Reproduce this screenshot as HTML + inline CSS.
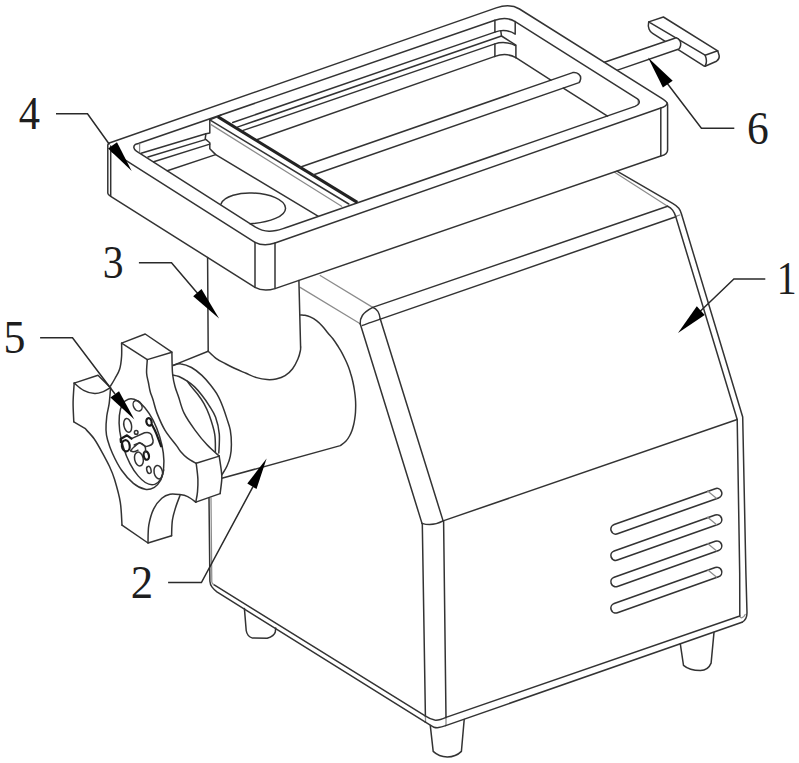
<!DOCTYPE html>
<html>
<head>
<meta charset="utf-8">
<title>Figure</title>
<style>
html,body{margin:0;padding:0;background:#fff;}
body{width:799px;height:763px;overflow:hidden;position:relative;}
svg{position:absolute;left:0;top:0;display:block;}
.k{fill:none;stroke:#333;stroke-width:1.5;stroke-linecap:round;stroke-linejoin:round;}
.t{fill:none;stroke:#222;stroke-width:3;stroke-linecap:butt;}
.b{fill:none;stroke:#1a1a1a;stroke-width:2.2;stroke-linecap:round;stroke-linejoin:round;}
.g{fill:none;stroke:#8c8c8c;stroke-width:1.25;stroke-linecap:round;}
.w{fill:#fff;stroke:none;}
.wk{fill:#fff;stroke:#1c1c1c;stroke-width:1.25;stroke-linejoin:round;stroke-linecap:round;}
.a{fill:#000;stroke:none;}
.l{fill:none;stroke:#2a2a2a;stroke-width:1.5;stroke-linecap:butt;stroke-linejoin:miter;}
text{font-family:"Liberation Serif",serif;font-size:46.3px;fill:#1e1e1e;text-anchor:middle;}
</style>
</head>
<body>
<svg width="799" height="763" viewBox="0 0 799 763">
<rect x="0" y="0" width="799" height="763" fill="#fff"/>

<g id="body">
<path class="k" d="M617,171.2 L672.6,203.4 C676,205.3 677.5,206.8 678.8,208.3 C680,209.8 680.8,211.8 681.4,213.8 L742.7,417 L745.9,573 L747,612.8 C747,617 745.5,620.5 742,622.3"/>
<path class="g" d="M614.6,172.3 L667.6,206.3"/>
<path class="g" d="M675.7,216.3 L679.8,215"/>
<path class="k" d="M667.6,206.3 C670,207.2 671.5,208.6 672.6,210.1 C674,212 675,214 675.7,216.5"/>
<path class="k" d="M372.7,307.4 L667.6,206.3"/>
<path class="k" d="M362.5,325.4 C365,324.6 368,323.4 371,322.4 L675.2,217"/>
<path class="k" d="M675.7,216.5 L737.2,419.5 L739.7,573 L739.8,616"/>
<path class="g" d="M739.8,616 C740.2,619 743.5,618 745.2,614.5"/>
<path class="g" d="M300.1,287.4 L360.2,323.7"/>
<path class="g" d="M320.2,275.5 L372.7,307.4"/>
<path class="k" d="M360.2,323.7 C360,318 362,313 372.7,307.4 C377.5,309 379.5,313.5 380.2,318.7"/>
<path class="k" d="M360.2,323.7 L422,523.4"/>
<path class="k" d="M380.2,318.7 L443.1,520.9"/>
<path class="k" d="M422,523.4 C428,525.3 436,524.8 443.1,520.9"/>
<path class="k" d="M422.3,523.4 L425.4,715.8"/>
<path class="g" d="M425.4,715.8 L425.6,722 M446,717.4 L446,725.4"/>
<path class="k" d="M443.6,520.9 L446,717.4"/>
<path class="k" d="M443.1,520.9 L737.2,419.5"/>
<path class="k" d="M446,717.4 L739.8,616"/>
<path class="k" d="M445.7,725.6 L742,622.3"/>
<path class="k" d="M425.2,715.8 C428,717.6 431,719.4 434.7,720.1 C438.5,720.6 442.5,719 446,717.4"/>
<path class="k" d="M425,721.9 L430.3,725.2 C431.5,726 432.7,726.8 433.9,727.2 C435.5,727.7 437,727.8 438.6,727.6 C441,727.3 443.5,726.4 445.7,725.6"/>
<path class="k" d="M213.8,584.6 L425.2,715.8"/>
<path class="k" d="M209,498 L209.9,581.3 C210.1,584 210.8,585.5 211.9,586.9 C213.2,588.6 215,590.5 216.9,591.9 L425,721.9"/>
<path class="g" d="M211,498 L211.8,582 C212,583.5 212.8,584.3 213.8,584.6"/>
<path class="k" d="M430.3,725.6 L433.2,751.4 C437,755 441.5,756.8 447.3,757 C453,757 458,754.8 461.4,751.4 L464.2,719.5"/>
<path class="k" d="M680.3,643.8 L683.5,665.4 C686.5,668 693,670.6 700.4,670.6 C705.5,670.4 709.5,667 711.1,663.1 L714,632.4"/>
<path class="k" d="M244.4,608.4 L246.2,630.5 C246.8,634.5 249,637 252.5,638.1 L267.2,638.2 C271.5,637 274.5,635 275.3,632 L275.7,628"/>
<g id="vents">
<g transform="translate(0,0.0)">
<path d="M615.8,529.2 L716.9,493.3" fill="none" stroke="#333" stroke-width="11.4" stroke-linecap="round"/>
<path d="M615.8,529.2 L716.9,493.3" fill="none" stroke="#fff" stroke-width="8.2" stroke-linecap="round"/>
<path class="g" d="M707.6,490.9 L716.4,498.2"/>
</g>
<g transform="translate(0,26.3)">
<path d="M615.8,529.2 L716.9,493.3" fill="none" stroke="#333" stroke-width="11.4" stroke-linecap="round"/>
<path d="M615.8,529.2 L716.9,493.3" fill="none" stroke="#fff" stroke-width="8.2" stroke-linecap="round"/>
<path class="g" d="M707.6,490.9 L716.4,498.2"/>
</g>
<g transform="translate(0,52.6)">
<path d="M615.8,529.2 L716.9,493.3" fill="none" stroke="#333" stroke-width="11.4" stroke-linecap="round"/>
<path d="M615.8,529.2 L716.9,493.3" fill="none" stroke="#fff" stroke-width="8.2" stroke-linecap="round"/>
<path class="g" d="M707.6,490.9 L716.4,498.2"/>
</g>
<g transform="translate(0,78.9)">
<path d="M615.8,529.2 L716.9,493.3" fill="none" stroke="#333" stroke-width="11.4" stroke-linecap="round"/>
<path d="M615.8,529.2 L716.9,493.3" fill="none" stroke="#fff" stroke-width="8.2" stroke-linecap="round"/>
<path class="g" d="M707.6,490.9 L716.4,498.2"/>
</g>
</g>
</g>
<g id="cyl">
<path class="k" d="M300.6,314.9 C301.3,315.0 303.4,315.0 305.0,315.3 C306.6,315.6 308.3,316.0 310.2,316.9 C312.1,317.8 314.5,319.1 316.5,320.6 C318.5,322.1 320.4,324.0 322.2,326.0 C324.0,328.0 325.8,330.4 327.5,332.5 C329.2,334.6 331.0,336.3 332.7,338.5 C334.4,340.7 336.0,343.1 337.5,345.5 C339.0,347.9 340.5,350.2 341.8,352.6 C343.1,355.0 344.4,357.7 345.5,360.0 C346.6,362.3 347.4,364.2 348.3,366.5 C349.2,368.8 350.1,371.5 350.8,374.0 C351.6,376.5 352.2,378.8 352.8,381.5 C353.4,384.2 354.0,387.2 354.4,390.0 C354.8,392.8 355.2,396.0 355.4,398.5 C355.6,401.0 355.7,402.8 355.7,405.0 C355.7,407.2 355.6,409.8 355.5,412.0 C355.4,414.2 355.1,416.4 354.8,418.5 C354.5,420.6 354.2,422.5 353.7,424.5 C353.2,426.5 352.7,428.6 352.0,430.5 C351.3,432.4 350.5,434.2 349.5,436.0 C348.5,437.8 347.3,439.7 345.8,441.3 C344.3,442.9 341.2,444.9 340.3,445.6 L221.8,478.3"/>
<path class="k" d="M207.6,257.6 L208.2,351.2"/>
<path class="k" d="M298.9,280.4 L300.6,347"/>
<path class="k" d="M208.2,351.2 C209.5,352.4 213.2,356.2 216.0,358.3 C218.8,360.4 221.7,361.8 225.0,363.5 C228.3,365.2 232.1,367.2 235.6,368.8 C239.1,370.4 242.6,371.8 246.1,373.3 C249.6,374.8 253.1,376.6 256.6,377.6 C260.1,378.7 263.9,379.4 267.1,379.6 C270.4,379.8 273.1,379.7 276.1,379.0 C279.1,378.3 282.4,377.3 285.1,375.6 C287.9,373.9 290.5,371.6 292.6,368.8 C294.7,366.0 296.6,362.0 297.9,359.0 C299.2,356.0 299.9,353.0 300.3,351.0 C300.8,349.0 300.6,347.7 300.6,347.0"/>
<path class="k" d="M208.2,351.3 L173.1,365.4"/>
<path class="k" d="M173.1,365.4 C174.4,365.1 177.9,363.5 181.0,363.9 C184.1,364.2 188.0,365.6 191.5,367.5 C195.0,369.4 198.8,372.5 201.9,375.4 C205.0,378.3 207.7,381.5 210.3,384.8 C212.9,388.1 215.6,391.6 217.7,395.3 C219.8,399.0 221.4,403.0 222.9,406.9 C224.4,410.8 225.6,414.5 226.8,418.4 C228.0,422.3 229.5,425.7 230.3,430.1 C231.1,434.5 231.4,440.3 231.4,444.6 C231.4,448.9 231.1,452.5 230.3,456.1 C229.6,459.7 228.3,463.2 226.9,466.3 C225.5,469.4 222.7,473.4 221.9,474.8"/>
<path class="k" d="M172.4,374.9 C173.5,375.2 176.4,375.4 178.9,376.5 C181.4,377.6 184.7,379.5 187.3,381.2 C189.9,382.9 192.2,384.5 194.6,386.9 C197.0,389.2 199.4,392.1 201.9,395.3 C204.4,398.5 207.0,402.1 209.3,405.8 C211.6,409.5 213.9,412.6 215.6,417.3 C217.3,422.0 218.8,428.2 219.3,434.1 C219.8,440.1 218.9,449.9 218.8,453.0"/>
<path class="k" d="M187.3,381.2 C188.0,382.1 189.8,384.7 191.5,386.9 C193.2,389.1 195.6,391.5 197.7,394.3 C199.8,397.1 202.1,400.2 204.0,403.7 C205.9,407.2 207.5,410.2 209.3,415.3 C211.1,420.4 213.7,428.1 214.7,434.1 C215.7,440.1 215.3,448.6 215.4,451.5"/>
</g>
<g id="knob">
<path class="w" d="M121.6,343.1 L145.2,334.0 L171.9,352.2 L172.1,363.3 L172.7,375.0 L175.0,386.5 L178.6,397.0 L184.1,413.2 L195.0,430.1 L206.8,444.6 L219.2,456.1 L221.3,470.6 L221.8,479.1 L220.1,493.6 L195.8,502.1 L197.5,491.9 L197.9,479.1 L196.2,463.3 L186.8,457.6 L180.2,451.0 L176.7,445.9 L164.9,430.1 L157.0,413.1 L153.1,400.0 L150.3,392.0 L148.5,383.0 L146.6,373.0 L147.3,359.6 Z"/>
<path class="k" d="M121.6,343.1 L145.2,334.0 L171.9,352.2 L147.3,359.6 Z"/>
<path class="k" d="M171.9,352.2 C171.9,354.1 172.0,359.5 172.1,363.3 C172.2,367.1 172.2,371.1 172.7,375.0 C173.2,378.9 174.0,382.8 175.0,386.5 C176.0,390.2 177.1,392.6 178.6,397.0 C180.1,401.4 181.4,407.7 184.1,413.2 C186.8,418.7 191.2,424.9 195.0,430.1 C198.8,435.3 202.8,440.3 206.8,444.6 C210.8,448.9 217.1,454.2 219.2,456.1"/>
<path class="k" d="M147.3,359.6 C147.2,361.8 146.4,369.1 146.6,373.0 C146.8,376.9 147.9,379.8 148.5,383.0 C149.1,386.2 149.5,389.2 150.3,392.0 C151.1,394.8 152.0,396.5 153.1,400.0 C154.2,403.5 155.0,408.1 157.0,413.1 C159.0,418.1 161.6,424.6 164.9,430.1 C168.2,435.6 174.1,442.4 176.7,445.9 C179.2,449.4 178.5,449.1 180.2,451.0 C181.9,452.9 184.1,455.6 186.8,457.6 C189.5,459.7 194.6,462.4 196.2,463.3"/>
<path class="k" d="M121.6,343.1 C121.6,345.3 121.9,351.8 121.6,356.2 C121.3,360.6 120.7,365.6 119.6,369.3 C118.5,373.0 116.5,375.7 115.0,378.5 C113.5,381.3 111.2,384.8 110.5,386.0"/>
<path class="k" d="M196.2,463.3 L219.2,456.1"/>
<path class="k" d="M196.2,463.3 C196.5,465.9 197.7,474.3 197.9,479.1 C198.1,483.9 197.8,488.1 197.5,491.9 C197.2,495.7 196.1,500.4 195.8,502.1"/>
<path class="k" d="M219.2,456.1 C219.5,458.5 220.9,466.8 221.3,470.6 C221.7,474.4 222.0,475.3 221.8,479.1 C221.6,482.9 220.4,491.2 220.1,493.6"/>
<path class="k" d="M195.8,502.1 L220.1,493.6"/>
<path class="k" d="M74.2,383.1 L98.0,375.2 L110.5,387.7"/>
<path class="k" d="M74.2,383.1 C75.8,384.3 80.2,388.6 83.6,390.3 C87.0,392.1 91.4,393.4 94.7,393.6 C98.0,393.8 100.7,392.6 103.3,391.6 C105.9,390.6 109.3,388.4 110.5,387.7"/>
<path class="k" d="M74.2,383.1 C74.0,386.3 73.2,395.7 73.1,402.1 C73.0,408.6 73.7,418.5 73.8,421.8"/>
<path class="k" d="M73.8,421.8 L84.9,428.3 C86.4,430.1 91.0,434.4 94.1,438.8 C97.2,443.2 100.8,450.0 103.3,454.6 C105.8,459.2 107.5,462.2 109.4,466.3 C111.3,470.4 112.8,473.5 114.6,479.5 C116.4,485.5 119.1,494.7 120.3,502.3 C121.5,509.9 121.7,521.3 122.0,525.1"/>
<path class="k" d="M122.0,525.1 L148.0,543.0 L171.6,535.7"/>
<path class="k" d="M148.0,543.0 C148.1,540.0 147.9,530.8 148.8,525.1 C149.8,519.4 151.5,513.3 153.7,508.8 C155.9,504.3 159.1,500.6 161.8,498.2 C164.5,495.8 167.0,494.8 170.0,494.2 C173.0,493.6 176.8,494.2 179.7,494.6 C182.6,495.0 185.0,495.4 187.7,496.6 C190.4,497.9 194.5,501.2 195.8,502.1"/>
<path class="k" d="M171.6,535.7 C171.7,533.1 171.7,525.0 172.4,520.2 C173.1,515.5 174.4,511.3 175.7,507.2 C177.0,503.1 179.3,497.4 180.0,495.5"/>
<path class="k" d="M110.5,388.5 C110.3,391.0 109.8,398.8 109.2,403.4 C108.6,408.0 107.3,411.6 106.8,416.0 C106.3,420.4 105.9,426.0 106.0,430.0 C106.1,434.0 106.5,436.1 107.6,440.0 C108.7,443.9 110.1,448.2 112.4,453.3 C114.7,458.4 118.1,465.3 121.6,470.3 C125.1,475.3 129.5,480.2 133.4,483.4 C137.3,486.6 141.7,488.6 145.2,489.3 C148.7,490.0 151.8,488.8 154.4,487.3 C157.0,485.8 158.9,483.4 160.5,480.5 C162.1,477.6 163.2,471.8 163.8,470.0"/>
<ellipse class="k" cx="141.5" cy="441.8" rx="18.9" ry="44.6" transform="rotate(-17.3 141.5 441.8)"/>
<ellipse class="k" cx="137.6" cy="405.8" rx="4.0" ry="5.6" transform="rotate(-30 137.6 405.8)"/>
<ellipse class="k" cx="127.7" cy="425.4" rx="3.8" ry="7.0" transform="rotate(-12 127.7 425.4)"/>
<ellipse class="b" cx="149.0" cy="421.9" rx="2.6" ry="3.8" transform="rotate(-15 149.0 421.9)"/>
<ellipse class="k" cx="138.9" cy="459.0" rx="4.3" ry="7.0" transform="rotate(-12 138.9 459.0)"/>
<ellipse class="b" cx="146.3" cy="455.6" rx="2.6" ry="4.2" transform="rotate(-12 146.3 455.6)"/>
<ellipse class="k" cx="148.9" cy="469.9" rx="2.1" ry="3.6" transform="rotate(-15 148.9 469.9)"/>
<ellipse class="k" cx="158.3" cy="472.2" rx="4.2" ry="6.8" transform="rotate(-12 158.3 472.2)"/>
<ellipse class="k" cx="136.2" cy="432.4" rx="1.8" ry="1.8" transform="rotate(0 136.2 432.4)"/>
<path class="k" d="M131.5,438.6 L144.5,432.8 Q149.6,431.4 151.6,435 L153.1,440.5 Q153.4,444.6 149,445.8 L146,446.6 L139.6,442.6 L134.2,445"/>
<path class="b" d="M120.6,439 L127,435.3 L131.5,438.6 M120.6,439 L120.9,442.2"/>
<ellipse class="b" cx="125.8" cy="445.8" rx="3.9" ry="5.6" transform="rotate(-8 125.8 445.8)"/>
<path class="k" d="M130.6,450.6 C131.2,450.0 132.5,448.3 134.0,447.0 C135.5,445.7 137.8,443.2 139.6,443.0 C141.4,442.8 143.6,444.9 144.6,446.0 C145.6,447.1 145.6,448.4 145.6,449.5 C145.6,450.6 144.8,452.1 144.6,452.6"/>
<path class="k" d="M130.6,450.6 C133,452.6 136,451.6 138,450.2"/>
<path class="b" d="M152.1,425.0 C152.8,426.3 154.5,429.3 156.0,432.9 C157.5,436.4 160.2,444.1 161.1,446.3"/>
</g>
<g id="handle">
<path class="k" d="M648.7,21.9 L663.4,17 L717.7,50.8 L705.1,55.2 Z"/>
<path class="k" d="M648.7,21.9 C648.1,24.8 648.2,27 649,28.9 C649.8,31 651,32.4 652.6,33.3 L703.4,65.7 L705.1,66.2 L716.5,61.3 C718.6,59.5 719.6,58 719.2,55.8 L717.7,50.8"/>
<path class="k" d="M705.1,55.2 C706.6,58.5 706.8,63 705.1,66.2"/>
<path class="w" d="M604.4,62.2 L676.2,37.7 C679.5,38.5 681.5,42.5 680.6,45.5 C680.2,47 679.8,48.2 678.9,49 L617.5,70.1 Z"/>
<path class="k" d="M604.4,62.2 L676.2,37.7 C679.5,38.5 681.5,42.5 680.6,45.5 C680.2,47 679.8,48.2 678.9,49 L617.5,70.1"/>
</g>
<g id="tray">
<path class="k" d="M107.8,144.9 L108.6,143.3 L496.2,7.9 C503,5.6 512,4.6 519.5,9 L662.6,98.9 C665.6,100.8 667.6,102.4 667.6,104.6 L667.6,150 C667.6,153 665,155.2 660.8,156 L275,288.6 C268,290.8 260.5,290.4 255,287.4 L110.7,196.3 C108.6,195 107.8,194.2 107.8,193.2 Z"/>
<path class="k" d="M667.3,103.2 C666.6,105.8 664,107 660.8,108 L275,243 C268,245.4 260.5,245.2 255,242.3 L128.6,162.2 L110.7,150.9"/>
<path class="k" d="M660.8,108 L660.8,156"/>
<path class="g" d="M638.2,99.6 L638.2,104.6"/>
<path class="k" d="M275,243 L275,288.6"/>
<path class="k" d="M255,242.3 L255,287.4"/>
<path class="k" d="M110.7,146 L110.7,196.3"/>
<path class="k" d="M139,143.3 L494.9,20.3 C501,18.2 509,17.8 515.2,21.6 L637.5,98.9 C639.4,100.2 639.8,102.4 638.6,103.9 C637.7,105 636.6,105.8 635,106.4 L290,226.3 C287.7,227.1 285.3,227.9 283,228.6 C280.7,229.3 278.3,230 276,230.5 C273.7,231 271.3,231.4 269,231.3 C266.7,231.2 264.3,230.8 262,230.1 C259.7,229.4 257.5,228.3 255.5,227.2 L250,223.7 L136.4,151.2 C133.4,149.2 133,146 135.4,144.4 C136.4,143.8 137.6,143.6 139,143.3 Z"/>
<path class="g" d="M139.6,144.2 L139.6,151.6"/>
<path class="k" d="M141.1,153.3 L205.9,133.7"/>
<path class="k" d="M148,157 L205.2,139.6"/>
<path class="k" d="M153.7,161.7 L209.8,144.1"/>
<path class="k" d="M167.3,170.8 L215.7,154.6"/>
<path class="k" d="M232.7,122.5 L494.9,32.1"/>
<path class="k" d="M237.3,127.1 L501.5,36"/>
<path class="k" d="M243.2,130.4 L494.9,43.9"/>
<path class="k" d="M256,140 L494.9,56.4"/>
<path class="k" d="M494.9,20.3 L494.9,32.1 C501,30 509,30.2 515.2,34.1 L515.2,21.6"/>
<path class="k" d="M500.8,31 L501.5,36 L515.9,45.2"/>
<path class="k" d="M494.9,56.4 L494.9,43.9 C501,41.8 509.5,42 515.9,45.9 L515.9,57.7"/>
<path class="k" d="M494.9,56.4 C501,54.2 509.5,54 515.9,57.7"/>
<path class="k" d="M515.9,57.7 L550.9,80.1"/>
<path class="k" d="M563.3,88.1 L607.5,116.2"/>
<path class="k" d="M221,204 C224,196 240,192.5 252,193 C270,193.5 285,200 285.5,208 C286,216 270,222.5 250,223.7"/>
<path class="k" d="M209.8,119.9 L209.8,133 L205.9,133.7 L205.2,138.9 L209.8,142.8 L209.8,148.7 L215.7,154.6 L318,216.2"/>
<path class="k" d="M209.8,119.9 L217.7,116.6 L221.6,114.7"/>
<path class="t" d="M217.7,116.6 L357.3,202.4"/>
<path class="k" d="M209.8,119.9 L348.8,204"/>
<path class="g" d="M211.1,124.6 L341.6,206.3"/>
<path class="k" d="M300,167.2 L572.7,72.6 C577.5,72 581.2,75 580.6,79 C580.3,80.6 579.8,81.8 579,82.6 L313,175"/>
</g>
<g id="leaders">
<path class="l" d="M56,113.7 H87.5 L109.5,144.5"/>
<path class="a" d="M108.1,148.6 L117,142.3 L131.7,171.1 Z"/>
<path class="l" d="M138.9,262.8 H171.5 L197.7,293.6"/>
<path class="a" d="M193.2,296.3 L201.5,288.9 L219.1,318.4 Z"/>
<path class="l" d="M40.1,337.7 H72.5 L115,394"/>
<path class="a" d="M110.4,397.5 L119,391.2 L134.4,419.5 Z"/>
<path class="l" d="M168.1,582.6 H201.4 L253,486.6"/>
<path class="a" d="M247.3,483.5 L256.5,489.1 L266.6,458.4 Z"/>
<path class="l" d="M734.3,128.3 H701.4 L667.5,83.8"/>
<path class="a" d="M662.9,87.5 L672.7,80.8 L648,57.6 Z"/>
<path class="l" d="M765.3,279 H733.9 L700.5,311"/>
<path class="a" d="M696.8,306.2 L704.7,314.9 L678,333 Z"/>
</g>
<g id="labels">
<text transform="translate(29.3,129.0) scale(0.92,1)" x="0" y="0">4</text>
<text transform="translate(113.2,278.2) scale(0.90,1)" x="0" y="0">3</text>
<text transform="translate(14.4,353.2) scale(0.95,1)" x="0" y="0">5</text>
<text transform="translate(142.0,597.9) scale(0.97,1)" x="0" y="0">2</text>
<text transform="translate(757.8,143.6) scale(0.94,1)" x="0" y="0">6</text>
<text transform="translate(786.6,293.6) scale(0.86,1)" x="0" y="0">1</text>
</g>
</svg>
</body>
</html>
